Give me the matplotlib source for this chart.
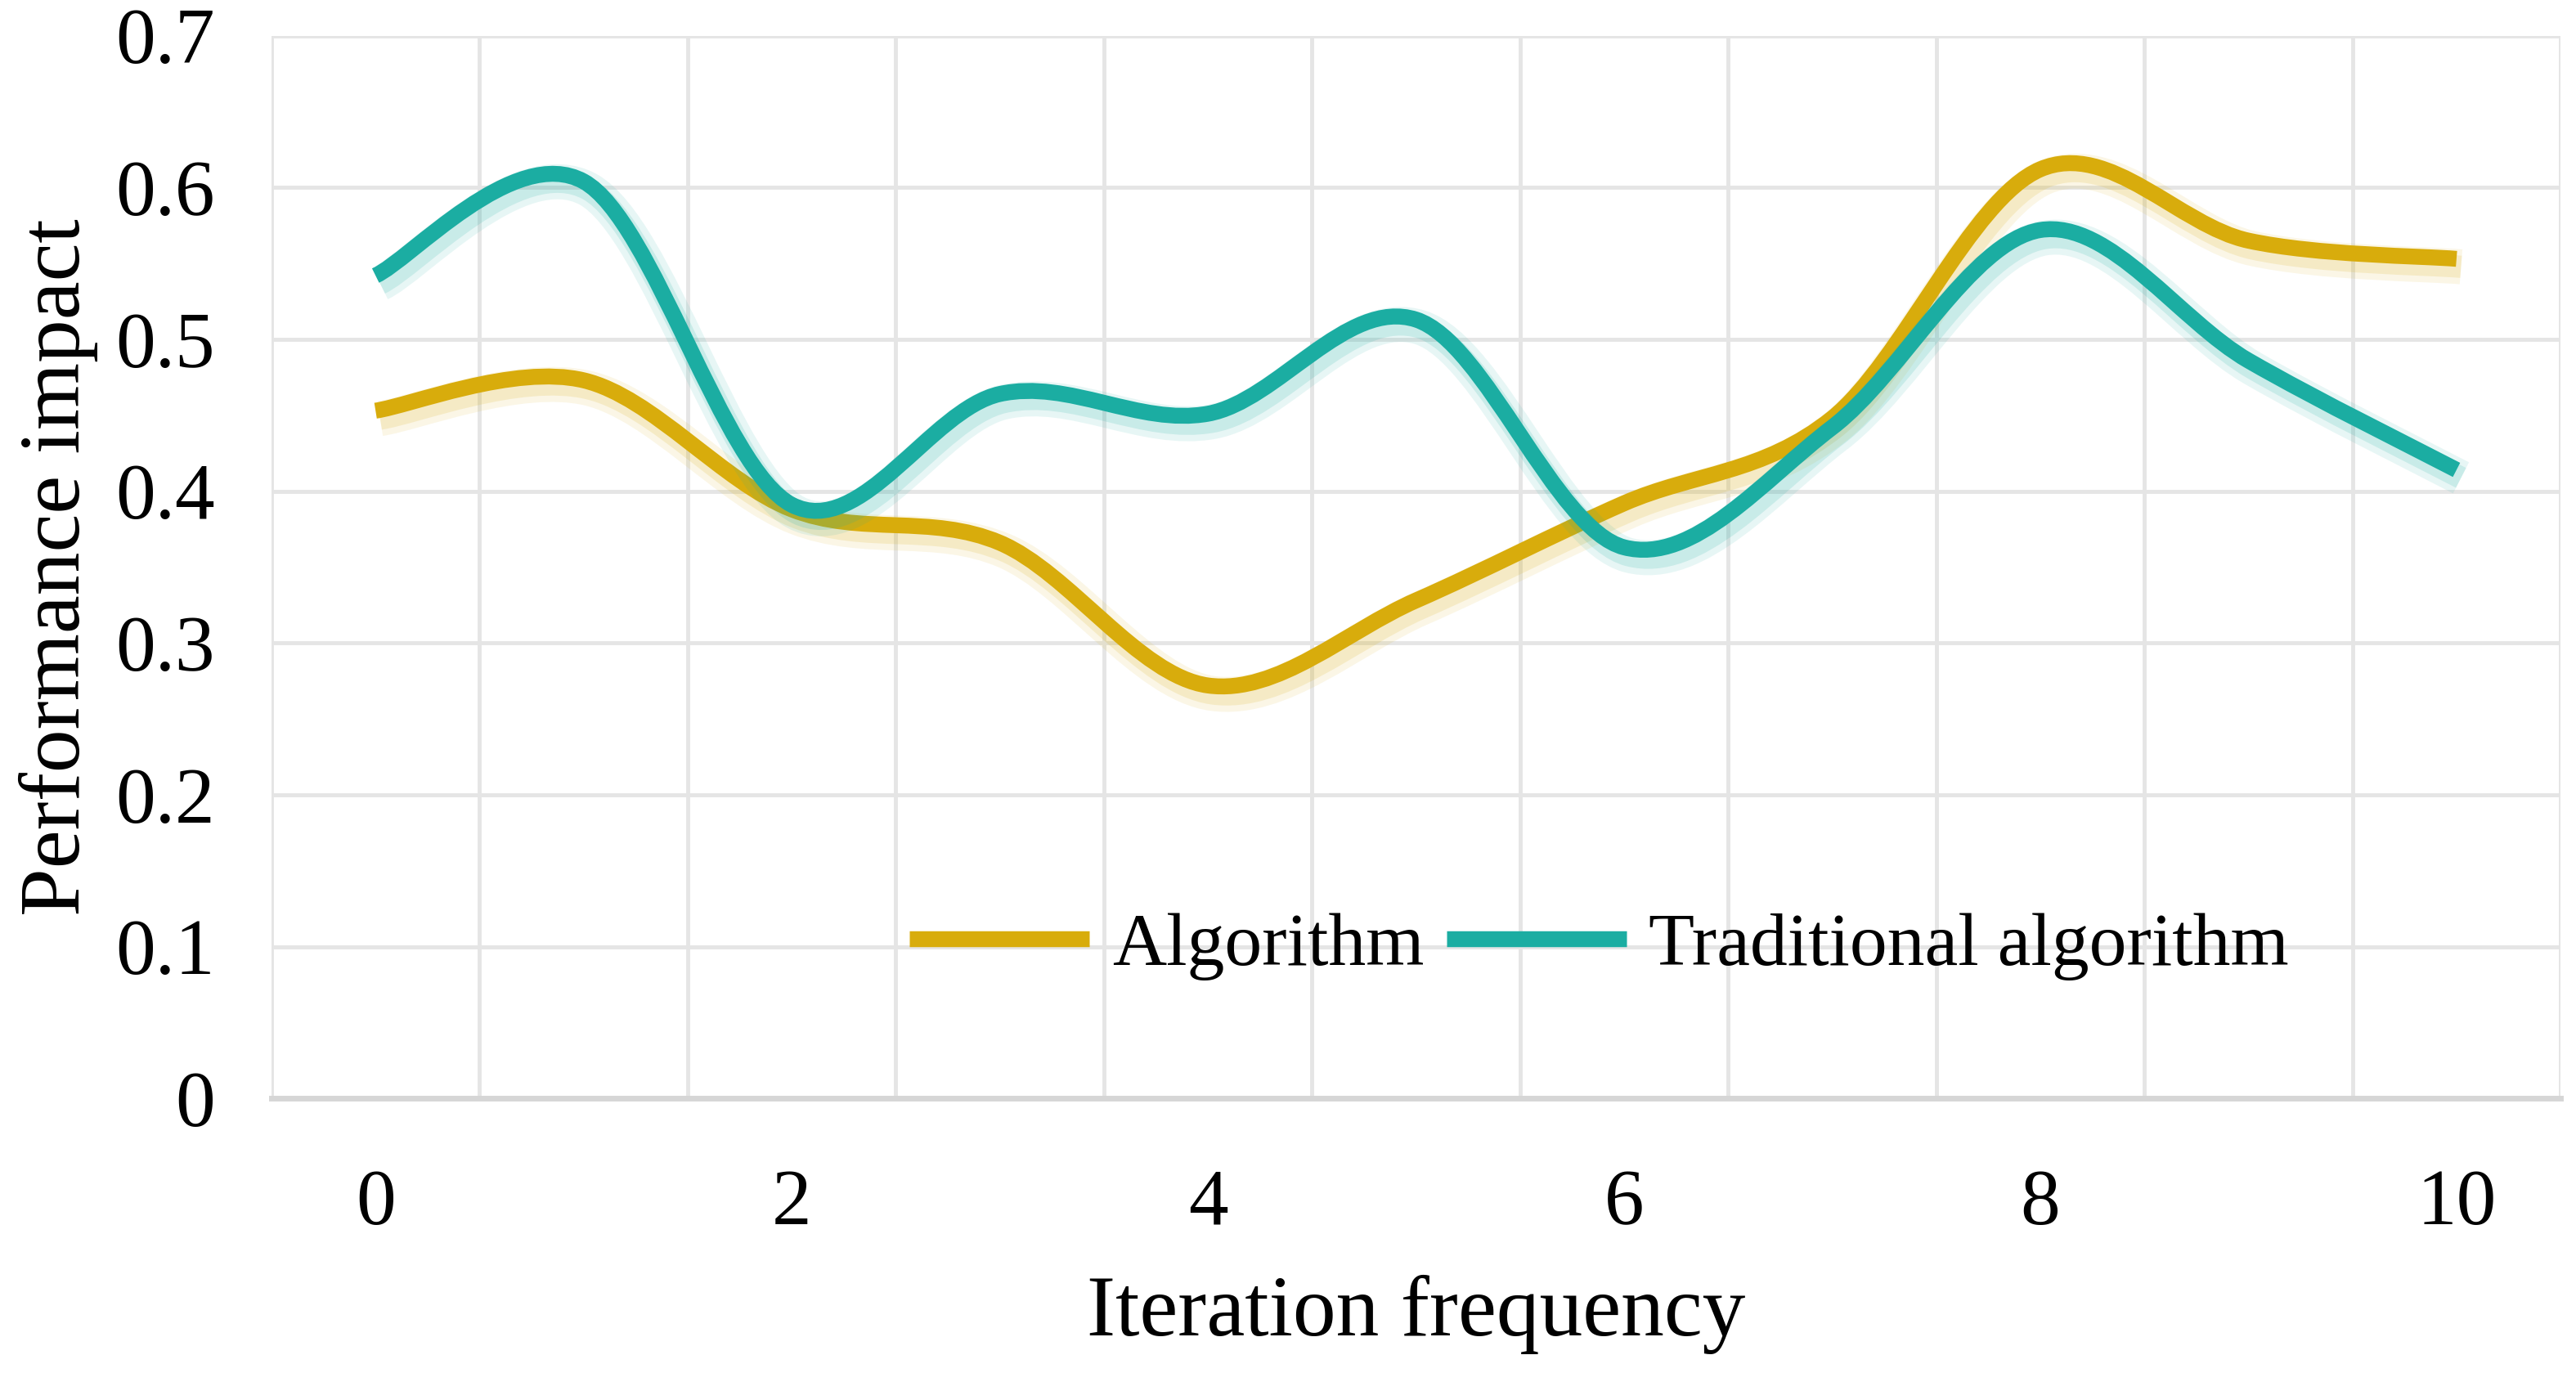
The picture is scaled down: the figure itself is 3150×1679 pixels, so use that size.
import numpy as np
import matplotlib
matplotlib.use('Agg')
import matplotlib.pyplot as plt
from matplotlib.path import Path
from matplotlib.patches import PathPatch
from matplotlib.lines import Line2D
import matplotlib.patheffects as pe

#=========================================================
#                  data
#=========================================================
iterations = [0, 1, 2, 3, 4, 5, 6, 7, 8, 9, 10]
alg_vals   = [0.453, 0.473, 0.388, 0.366, 0.272, 0.328, 0.392, 0.448, 0.612, 0.565, 0.553]
trad_vals  = [0.542, 0.604, 0.391, 0.464, 0.451, 0.513, 0.363, 0.442, 0.572, 0.486, 0.414]
series_names = ['Algorithm', 'Traditional algorithm']
x_ticks  = [0, 2, 4, 6, 8, 10]
y_ticks  = [0, 0.1, 0.2, 0.3, 0.4, 0.5, 0.6, 0.7]
y_labels = ['0', '0.1', '0.2', '0.3', '0.4', '0.5', '0.6', '0.7']

c_alg  = '#D8AC0C'
c_trad = '#1BADA2'

#=========================================================
#                  FCT. Def
#=========================================================
def smooth_path(a_x, a_y, t=1/6.):
    """
    excel-like smoothed line: cubic bezier through the data points
    """
    pts = np.column_stack([a_x, a_y]).astype(float)
    n = len(pts)
    verts = [pts[0]]
    codes = [Path.MOVETO]
    for i in range(n-1):
        p0 = pts[max(i-1, 0)]
        p1 = pts[i]
        p2 = pts[i+1]
        p3 = pts[min(i+2, n-1)]
        c1 = p1 + (p2 - p0)*t
        c2 = p2 - (p3 - p1)*t
        verts += [c1, c2, p2]
        codes += [Path.CURVE4]*3
    return Path(verts, codes)

#=========================================================
#                  Plots
#=========================================================
plt.rcParams['font.family'] = ['Liberation Serif', 'DejaVu Serif']

fig = plt.figure(figsize=(31.5, 16.79), dpi=100)
ax = fig.add_axes([0.1054, 0.200, 0.8886, 0.774])

lw = 14
for a_y, col in [(alg_vals, c_alg), (trad_vals, c_trad)]:
    patch = PathPatch(smooth_path(iterations, a_y), facecolor='none',
                      edgecolor=col, lw=lw, capstyle='butt', joinstyle='round',
                      zorder=3)
    # soft drop shadow
    patch.set_path_effects([
        pe.SimpleLineShadow(offset=(4, -7), shadow_color=col, alpha=0.10,
                            linewidth=lw*2.2),
        pe.SimpleLineShadow(offset=(4, -7), shadow_color=col, alpha=0.15,
                            linewidth=lw*1.4),
        pe.Normal()])
    ax.add_patch(patch)

ax.set_xlim(-0.5, 10.5)
ax.set_ylim(0, 0.7)

# category style grid: lines between the categories
ax.set_xticks(np.arange(-0.5, 11, 1), minor=True)
ax.set_xticks(x_ticks)
ax.set_yticks(y_ticks)
ax.set_yticklabels(y_labels)
ax.grid(True, which='minor', axis='x', color='#E5E5E5', lw=3.5)
ax.grid(True, which='major', axis='y', color='#E5E5E5', lw=3.5)
ax.grid(False, which='major', axis='x')
ax.set_axisbelow(True)

for s in ['top', 'right', 'left']:
    ax.spines[s].set_visible(False)
ax.spines['bottom'].set_color('#D6D6D6')
ax.spines['bottom'].set_linewidth(5)

ax.tick_params(which='both', length=0)
ax.tick_params(axis='x', labelsize=70, pad=62)
ax.tick_params(axis='y', labelsize=70, pad=50)

ax.set_xlabel('Iteration frequency', fontsize=76, va='center')
ax.set_ylabel('Performance impact', fontsize=76, va='center')
ax.xaxis.set_label_coords(0.5, -0.203)
ax.yaxis.set_label_coords(-0.093, 0.5)

handles = [Line2D([], [], color=c_alg, lw=lw, solid_capstyle='butt'),
           Line2D([], [], color=c_trad, lw=lw, solid_capstyle='butt')]
ax.legend(handles, series_names, ncol=2, loc='center', bbox_to_anchor=(0.580, 0.143),
          frameon=False, fontsize=66, handlelength=2.4, handletextpad=0.3,
          columnspacing=0.3, borderpad=0.1)

fig.savefig('out.png', dpi=100)
